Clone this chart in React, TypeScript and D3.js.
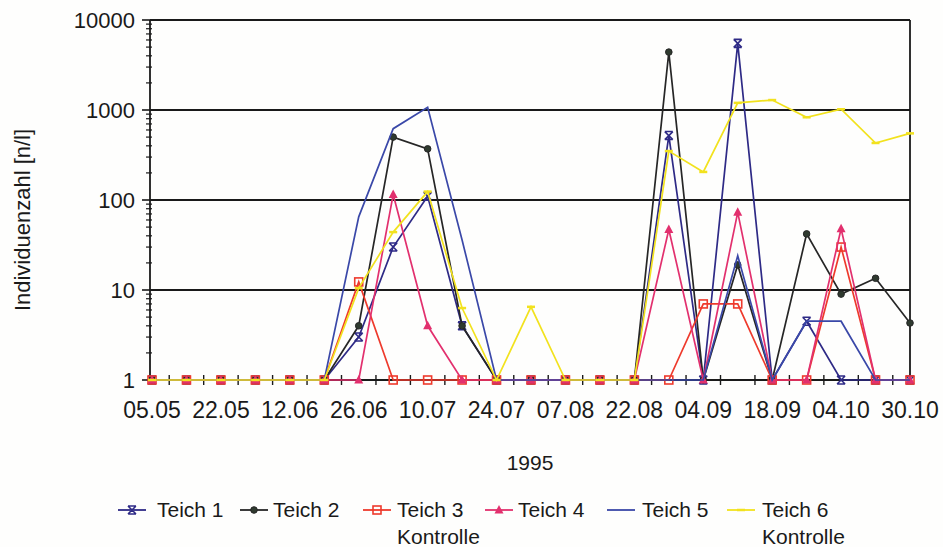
import React, { useEffect, useRef } from "react";
import * as d3 from "d3";

// sampling dates: a label is shown on every second sample
const tickLabels = ["05.05", "22.05", "12.06", "26.06", "10.07", "24.07", "07.08", "22.08", "04.09", "18.09", "04.10", "30.10"];
const sampleCount = 23;

const teich1 = [1, 1, 1, 1, 1, 1, 3, 30, 110, 4, 1, 1, 1, 1, 1, 520, 1, 5500, 1, 4.5, 1, 1, 1];
const teich2 = [1, 1, 1, 1, 1, 1, 4, 500, 370, 4, 1, 1, 1, 1, 1, 4400, 1, 19, 1, 42, 9, 13.5, 4.3];
const teich3 = [1, 1, 1, 1, 1, 1, 12.3, 1, 1, 1, 1, 1, 1, 1, 1, 1, 7, 7, 1, 1, 30, 1, 1];
const teich4 = [1, 1, 1, 1, 1, 1, 1, 115, 4, 1, 1, 1, 1, 1, 1, 47, 1, 73, 1, 1, 48, 1, 1];
const teich5 = [1, 1, 1, 1, 1, 1, 65, 620, 1070, 36, 1, 1, 1, 1, 1, 1, 1, 24, 1, 4.5, 4.5, 1, 1];
const teich6 = [1, 1, 1, 1, 1, 1, 10.5, 44, 124, 6.3, 1, 6.5, 1, 1, 1, 350, 205, 1200, 1290, 830, 1020, 430, 550];

const yTicks = [1, 10, 100, 1000, 10000];

type Marker = "star" | "circle" | "square" | "triangle" | "none" | "dash";
const series: { name: string[]; values: number[]; color: string; marker: Marker }[] = [
  { name: ["Teich 1"], values: teich1, color: "#2e2a86", marker: "star" },
  { name: ["Teich 2"], values: teich2, color: "#262626", marker: "circle" },
  { name: ["Teich 3", "Kontrolle"], values: teich3, color: "#ee3a2c", marker: "square" },
  { name: ["Teich 4"], values: teich4, color: "#e2306e", marker: "triangle" },
  { name: ["Teich 5"], values: teich5, color: "#3a48a8", marker: "none" },
  { name: ["Teich 6", "Kontrolle"], values: teich6, color: "#f2e21e", marker: "dash" },
];

const legendX = [118, 240, 363, 485, 607, 727];
const legendText = [157, 273, 397, 518, 642, 762];

const FONT = "'Liberation Sans', Arial, sans-serif";

function drawMarker(g: d3.Selection<SVGGElement, unknown, null, undefined>, kind: Marker, x: number, y: number, color: string) {
  if (kind === "star") {
    const s = 4;
    g.append("path")
      .attr("d", `M${x - s},${y - s}L${x + s},${y + s}M${x + s},${y - s}L${x - s},${y + s}M${x - s},${y - s}H${x + s}M${x - s},${y + s}H${x + s}`)
      .attr("stroke", color).attr("stroke-width", 1.6).attr("fill", "none");
  } else if (kind === "circle") {
    g.append("circle").attr("cx", x).attr("cy", y).attr("r", 3.3).attr("fill", "#2f3a2f").attr("stroke", color);
  } else if (kind === "square") {
    g.append("rect").attr("x", x - 4).attr("y", y - 4).attr("width", 8).attr("height", 8)
      .attr("fill", "none").attr("stroke", color).attr("stroke-width", 1.6);
  } else if (kind === "triangle") {
    g.append("path").attr("d", `M${x},${y - 5}L${x + 4.5},${y + 3.5}L${x - 4.5},${y + 3.5}Z`).attr("fill", color);
  } else if (kind === "dash") {
    g.append("line").attr("x1", x - 4).attr("x2", x + 4).attr("y1", y).attr("y2", y)
      .attr("stroke", color).attr("stroke-width", 2.5);
  }
}

export default function App() {
  const svgRef = useRef<SVGSVGElement | null>(null);

  useEffect(() => {
    const width = 943, height = 547;
    const svg = d3.select(svgRef.current);
    svg.selectAll("*").remove();
    svg.attr("width", width).attr("height", height);

    const left = 150, right = 910, top = 20, bottom = 380;
    const idx = d3.range(sampleCount);
    const x = d3.scalePoint<number>().domain(idx).range([152, right]);
    const y = d3.scaleLog().domain([1, 10000]).range([bottom, top]);

    svg.append("rect").attr("width", width).attr("height", height).attr("fill", "#fefefd");

    // gridlines
    svg.append("g").selectAll("line").data(yTicks.slice(1)).enter().append("line")
      .attr("x1", left).attr("x2", right)
      .attr("y1", d => y(d)).attr("y2", d => y(d))
      .attr("stroke", "#1a1a1a").attr("stroke-width", 2);

    // right border
    svg.append("line").attr("x1", right).attr("x2", right).attr("y1", top).attr("y2", bottom)
      .attr("stroke", "#1a1a1a").attr("stroke-width", 1.8);

    // y axis with log minor ticks
    const yAxis = svg.append("g");
    yAxis.append("line").attr("x1", left).attr("x2", left).attr("y1", top).attr("y2", bottom)
      .attr("stroke", "#1a1a1a").attr("stroke-width", 1.8);
    const minor: number[] = [];
    for (let e = 0; e < 4; e++) for (let m = 2; m <= 9; m++) minor.push(m * Math.pow(10, e));
    yAxis.selectAll(".minor").data(minor).enter().append("line")
      .attr("x1", left - 4).attr("x2", left + 2)
      .attr("y1", d => y(d)).attr("y2", d => y(d))
      .attr("stroke", "#1a1a1a").attr("stroke-width", 1.2);
    yAxis.selectAll(".major").data(yTicks).enter().append("line")
      .attr("x1", left - 8).attr("x2", left)
      .attr("y1", d => y(d)).attr("y2", d => y(d))
      .attr("stroke", "#1a1a1a").attr("stroke-width", 1.6);
    yAxis.selectAll("text").data(yTicks).enter().append("text")
      .attr("x", 135).attr("y", d => y(d)).attr("dy", "0.36em")
      .attr("text-anchor", "end").attr("font-family", FONT).attr("font-size", 22)
      .attr("fill", "#1a1a1a").text(d => String(d));

    // x axis
    const xAxis = svg.append("g");
    xAxis.append("line").attr("x1", left).attr("x2", right).attr("y1", bottom).attr("y2", bottom)
      .attr("stroke", "#1a1a1a").attr("stroke-width", 1.8);
    const step = x.step();
    xAxis.selectAll(".tick").data(idx.slice(0, -1)).enter().append("line")
      .attr("x1", d => (x(d) as number) + step / 2).attr("x2", d => (x(d) as number) + step / 2)
      .attr("y1", bottom - 5).attr("y2", bottom + 5)
      .attr("stroke", "#1a1a1a").attr("stroke-width", 1.4);
    xAxis.selectAll("text").data(tickLabels).enter().append("text")
      .attr("x", (_, i) => x(i * 2) as number).attr("y", 418)
      .attr("text-anchor", "middle").attr("font-family", FONT).attr("font-size", 23)
      .attr("fill", "#1a1a1a").text(d => d);

    svg.append("text").attr("x", 530).attr("y", 470).attr("text-anchor", "middle")
      .attr("font-family", FONT).attr("font-size", 21).attr("fill", "#1a1a1a").text("1995");

    svg.append("text").attr("transform", "translate(30,220) rotate(-90)")
      .attr("text-anchor", "middle").attr("font-family", FONT).attr("font-size", 22)
      .attr("fill", "#1a1a1a").text("Individuenzahl [n/l]");

    // series
    const line = d3.line<number>().x((_, i) => x(i) as number).y(d => y(d));
    series.forEach(s => {
      const g = svg.append("g");
      g.append("path").attr("d", line(s.values) as string)
        .attr("fill", "none").attr("stroke", s.color).attr("stroke-width", 1.7)
        .attr("stroke-linejoin", "miter");
      s.values.forEach((v, i) => drawMarker(g, s.marker, x(i) as number, y(v), s.color));
    });

    // legend
    const legend = svg.append("g");
    series.forEach((s, k) => {
      const lx = legendX[k];
      const ly = 510;
      legend.append("line").attr("x1", lx).attr("x2", lx + 28).attr("y1", ly).attr("y2", ly)
        .attr("stroke", s.color).attr("stroke-width", 1.8);
      drawMarker(legend, s.marker, lx + 14, ly, s.color);
      s.name.forEach((t, j) => {
        legend.append("text").attr("x", legendText[k]).attr("y", 517 + j * 27)
          .attr("font-family", FONT).attr("font-size", 21).attr("fill", "#1a1a1a").text(t);
      });
    });
  }, []);

  return (
    <div style={{ position: "absolute", left: 0, top: 0 }}>
      <svg ref={svgRef} width={943} height={547}></svg>
    </div>
  );
}
